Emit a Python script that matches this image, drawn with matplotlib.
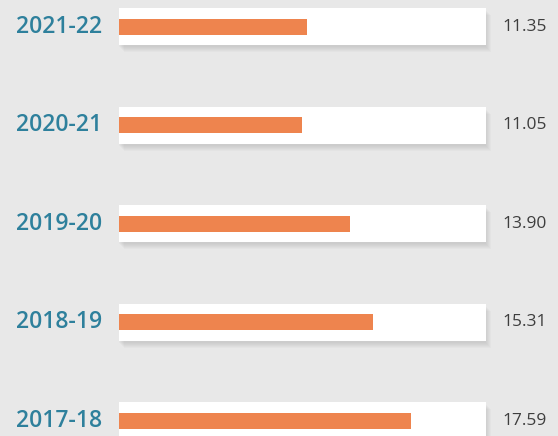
import matplotlib
matplotlib.use("Agg")
import matplotlib.pyplot as plt
import numpy as np

# Data
years = ["2021-22", "2020-21", "2019-20", "2018-19", "2017-18"]
values = [11.35, 11.05, 13.90, 15.31, 17.59]
value_labels = ["11.35", "11.05", "13.90", "15.31", "17.59"]
track_max = 22.1

W, H = 558, 436
fig = plt.figure(figsize=(W / 100, H / 100), dpi=100)
fig.patch.set_facecolor("#e8e8e8")
ax = fig.add_axes([0, 0, 1, 1])
ax.set_facecolor("#e8e8e8")

px_per_unit = 16.6
row_px = 98.5
x0_px = 119
top_px = 27
ax.set_xlim(-x0_px / px_per_unit, (W - x0_px) / px_per_unit)
ax.set_ylim((H - top_px) / row_px, -top_px / row_px)
ax.axis("off")

y = np.arange(len(years))
track_h = 37 / row_px
bar_h = 16 / row_px

# soft drop shadow
for i in range(6):
    off_x = (1 + i) / px_per_unit
    off_y = (2 + i) / row_px
    ax.barh(y + off_y, track_max, left=off_x - 1 / px_per_unit,
            height=track_h, color="#666666", alpha=0.035, linewidth=0, zorder=1)

ax.barh(y, track_max, height=track_h, color="white", linewidth=0, zorder=2)
ax.barh(y, values, height=bar_h, color="#ee844e", linewidth=0, zorder=3)

for yi, yr, lab in zip(y, years, value_labels):
    ax.text(-1.0, yi, yr, ha="right", va="center", fontsize=16.5,
            color="#2e809c", family="Open Sans", fontweight="semibold", zorder=4)
    ax.text(23.1, yi, lab, ha="left", va="center", fontsize=12.5,
            color="#3e3e3e", family="Open Sans", zorder=4)

fig.savefig("out.png", dpi=100, facecolor=fig.get_facecolor())
